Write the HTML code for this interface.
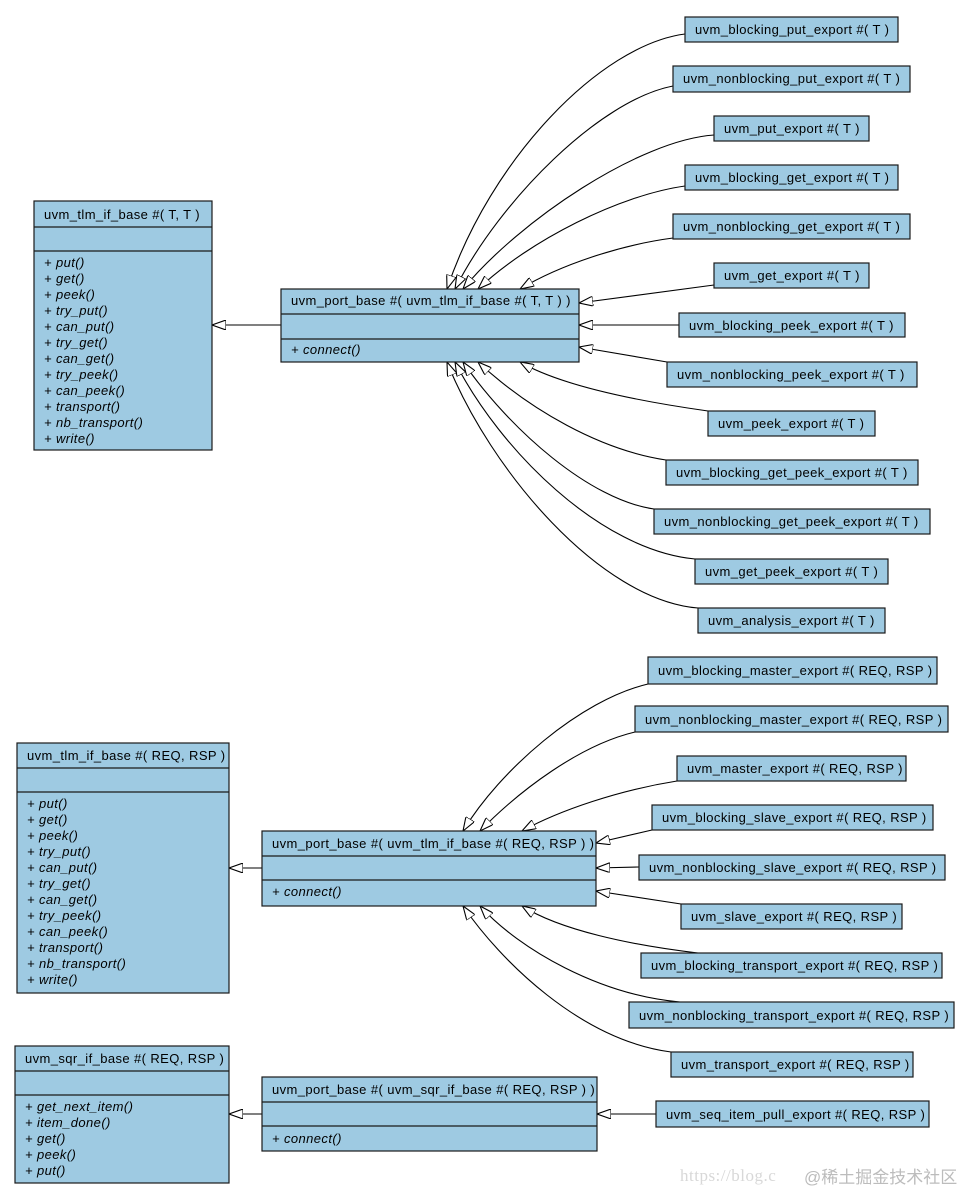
<!DOCTYPE html>
<html><head><meta charset="utf-8"><style>
html,body{margin:0;padding:0;background:#fff;}
svg{display:block;}
text{font-family:"Liberation Sans",Arial,sans-serif;font-size:13px;letter-spacing:0.4px;fill:#000;}
.m{font-style:italic;}
rect{fill:#9ecae2;stroke:#1a1a1a;stroke-width:1.2;}
line.s{stroke:#1a1a1a;stroke-width:1.2;}
path{fill:none;stroke:#000;stroke-width:1.1;}
</style></head><body>
<svg width="971" height="1193" viewBox="0 0 971 1193" xmlns="http://www.w3.org/2000/svg">
<defs>
<marker id="a" viewBox="0 0 14 10" refX="14" refY="5" markerWidth="14" markerHeight="10" markerUnits="userSpaceOnUse" orient="auto">
<path d="M0,0 L14,5 L0,10 Z" style="fill:#fff;stroke:#000;stroke-width:1.1"/>
</marker>
</defs>

<path marker-end="url(#a)" d="M685,34 C600,45 490,160 447,289"/>
<path marker-end="url(#a)" d="M673,86 C600,100 500,200 455,289"/>
<path marker-end="url(#a)" d="M714,135 C640,140 520,220 463,289"/>
<path marker-end="url(#a)" d="M685,186 C620,195 530,240 478,289"/>
<path marker-end="url(#a)" d="M673,238 C620,245 560,265 520,289"/>
<path marker-end="url(#a)" d="M714,285 L579,303"/>
<path marker-end="url(#a)" d="M679,325 L579,325"/>
<path marker-end="url(#a)" d="M667,362 L579,347"/>
<path marker-end="url(#a)" d="M708,411 C630,400 560,385 520,362"/>
<path marker-end="url(#a)" d="M666,460 C600,450 530,410 478,362"/>
<path marker-end="url(#a)" d="M654,509 C590,500 510,430 463,362"/>
<path marker-end="url(#a)" d="M695,559 C600,550 500,450 455,362"/>
<path marker-end="url(#a)" d="M698,608 C600,600 490,470 447,362"/>
<path marker-end="url(#a)" d="M281,325 L212,325"/>

<path marker-end="url(#a)" d="M648,684 C580,700 500,770 463,831"/>
<path marker-end="url(#a)" d="M635,732 C580,745 520,790 480,831"/>
<path marker-end="url(#a)" d="M677,781 C620,790 560,810 522,831"/>
<path marker-end="url(#a)" d="M652,830 L596,843"/>
<path marker-end="url(#a)" d="M639,867 L596,868"/>
<path marker-end="url(#a)" d="M681,904 L596,891"/>
<path marker-end="url(#a)" d="M698,953 C630,945 560,930 522,906"/>
<path marker-end="url(#a)" d="M680,1002 C600,995 520,950 480,906"/>
<path marker-end="url(#a)" d="M671,1052 C580,1040 500,960 463,906"/>
<path marker-end="url(#a)" d="M262,868 L229,868"/>

<path marker-end="url(#a)" d="M656,1114 L597,1114"/>
<path marker-end="url(#a)" d="M262,1114 L229,1114"/>

<rect x="34" y="201" width="178" height="249"/>
<line class="s" x1="34" y1="227" x2="212" y2="227"/>
<line class="s" x1="34" y1="251" x2="212" y2="251"/>
<text x="44" y="219">uvm_tlm_if_base #( T, T )</text>
<text class="m" x="44" y="267">+ put()</text>
<text class="m" x="44" y="283">+ get()</text>
<text class="m" x="44" y="299">+ peek()</text>
<text class="m" x="44" y="315">+ try_put()</text>
<text class="m" x="44" y="331">+ can_put()</text>
<text class="m" x="44" y="347">+ try_get()</text>
<text class="m" x="44" y="363">+ can_get()</text>
<text class="m" x="44" y="379">+ try_peek()</text>
<text class="m" x="44" y="395">+ can_peek()</text>
<text class="m" x="44" y="411">+ transport()</text>
<text class="m" x="44" y="427">+ nb_transport()</text>
<text class="m" x="44" y="443">+ write()</text>

<rect x="281" y="289" width="298" height="73"/>
<line class="s" x1="281" y1="314" x2="579" y2="314"/>
<line class="s" x1="281" y1="339" x2="579" y2="339"/>
<text x="291" y="305">uvm_port_base #( uvm_tlm_if_base #( T, T ) )</text>
<text class="m" x="291" y="354">+ connect()</text>

<rect x="685" y="17" width="213" height="25"/><text x="695" y="34">uvm_blocking_put_export #( T )</text>
<rect x="673" y="66" width="237" height="26"/><text x="683" y="83">uvm_nonblocking_put_export #( T )</text>
<rect x="714" y="116" width="155" height="25"/><text x="724" y="133">uvm_put_export #( T )</text>
<rect x="685" y="165" width="213" height="25"/><text x="695" y="182">uvm_blocking_get_export #( T )</text>
<rect x="673" y="214" width="237" height="25"/><text x="683" y="231">uvm_nonblocking_get_export #( T )</text>
<rect x="714" y="263" width="155" height="25"/><text x="724" y="280">uvm_get_export #( T )</text>
<rect x="679" y="313" width="226" height="24"/><text x="689" y="330">uvm_blocking_peek_export #( T )</text>
<rect x="667" y="362" width="250" height="25"/><text x="677" y="379">uvm_nonblocking_peek_export #( T )</text>
<rect x="708" y="411" width="167" height="25"/><text x="718" y="428">uvm_peek_export #( T )</text>
<rect x="666" y="460" width="252" height="25"/><text x="676" y="477">uvm_blocking_get_peek_export #( T )</text>
<rect x="654" y="509" width="276" height="25"/><text x="664" y="526">uvm_nonblocking_get_peek_export #( T )</text>
<rect x="695" y="559" width="193" height="25"/><text x="705" y="576">uvm_get_peek_export #( T )</text>
<rect x="698" y="608" width="187" height="25"/><text x="708" y="625">uvm_analysis_export #( T )</text>

<rect x="17" y="743" width="212" height="250"/>
<line class="s" x1="17" y1="768" x2="229" y2="768"/>
<line class="s" x1="17" y1="792" x2="229" y2="792"/>
<text x="27" y="760">uvm_tlm_if_base #( REQ, RSP )</text>
<text class="m" x="27" y="808">+ put()</text>
<text class="m" x="27" y="824">+ get()</text>
<text class="m" x="27" y="840">+ peek()</text>
<text class="m" x="27" y="856">+ try_put()</text>
<text class="m" x="27" y="872">+ can_put()</text>
<text class="m" x="27" y="888">+ try_get()</text>
<text class="m" x="27" y="904">+ can_get()</text>
<text class="m" x="27" y="920">+ try_peek()</text>
<text class="m" x="27" y="936">+ can_peek()</text>
<text class="m" x="27" y="952">+ transport()</text>
<text class="m" x="27" y="968">+ nb_transport()</text>
<text class="m" x="27" y="984">+ write()</text>

<rect x="262" y="831" width="334" height="75"/>
<line class="s" x1="262" y1="856" x2="596" y2="856"/>
<line class="s" x1="262" y1="880" x2="596" y2="880"/>
<text x="272" y="848">uvm_port_base #( uvm_tlm_if_base #( REQ, RSP ) )</text>
<text class="m" x="272" y="896">+ connect()</text>

<rect x="648" y="657" width="289" height="27"/><text x="658" y="675">uvm_blocking_master_export #( REQ, RSP )</text>
<rect x="635" y="706" width="313" height="26"/><text x="645" y="724">uvm_nonblocking_master_export #( REQ, RSP )</text>
<rect x="677" y="756" width="229" height="25"/><text x="687" y="773">uvm_master_export #( REQ, RSP )</text>
<rect x="652" y="805" width="281" height="25"/><text x="662" y="822">uvm_blocking_slave_export #( REQ, RSP )</text>
<rect x="639" y="855" width="306" height="25"/><text x="649" y="872">uvm_nonblocking_slave_export #( REQ, RSP )</text>
<rect x="681" y="904" width="221" height="25"/><text x="691" y="921">uvm_slave_export #( REQ, RSP )</text>
<rect x="641" y="953" width="301" height="25"/><text x="651" y="970">uvm_blocking_transport_export #( REQ, RSP )</text>
<rect x="629" y="1002" width="325" height="26"/><text x="639" y="1020">uvm_nonblocking_transport_export #( REQ, RSP )</text>
<rect x="671" y="1052" width="242" height="25"/><text x="681" y="1069">uvm_transport_export #( REQ, RSP )</text>

<rect x="15" y="1046" width="214" height="137"/>
<line class="s" x1="15" y1="1071" x2="229" y2="1071"/>
<line class="s" x1="15" y1="1095" x2="229" y2="1095"/>
<text x="25" y="1063">uvm_sqr_if_base #( REQ, RSP )</text>
<text class="m" x="25" y="1111">+ get_next_item()</text>
<text class="m" x="25" y="1127">+ item_done()</text>
<text class="m" x="25" y="1143">+ get()</text>
<text class="m" x="25" y="1159">+ peek()</text>
<text class="m" x="25" y="1175">+ put()</text>

<rect x="262" y="1077" width="335" height="74"/>
<line class="s" x1="262" y1="1102" x2="597" y2="1102"/>
<line class="s" x1="262" y1="1126" x2="597" y2="1126"/>
<text x="272" y="1094">uvm_port_base #( uvm_sqr_if_base #( REQ, RSP ) )</text>
<text class="m" x="272" y="1143">+ connect()</text>

<rect x="656" y="1101" width="273" height="26"/><text x="666" y="1119">uvm_seq_item_pull_export #( REQ, RSP )</text>

<text x="680" y="1181" style="font-family:'Liberation Serif','Noto Serif CJK SC',serif;font-size:17px;letter-spacing:0.5px;fill:#d8d8d8">https://blog.c</text>
<text x="804" y="1183" style="font-family:'Liberation Sans','Noto Sans CJK SC',sans-serif;font-size:17px;letter-spacing:0;fill:#bcbcbc">@稀土掘金技术社区</text>
</svg>
</body></html>
